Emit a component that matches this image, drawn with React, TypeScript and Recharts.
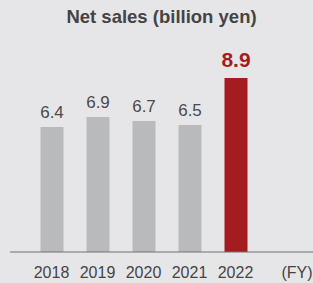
import React from 'react';
import { BarChart, Bar, XAxis, YAxis, Cell, LabelList, Label } from 'recharts';

const years = ['2018', '2019', '2020', '2021', '2022'];
const netSales = [6.4, 6.9, 6.7, 6.5, 8.9];
const highlightYear = '2022';

const data = years.map((year, i) => ({ year, sales: netSales[i] }));

const FONT = '"Liberation Sans", Arial, Helvetica, sans-serif';
const RED = '#a51c20';
const GRAY = '#b9babc';

const ValueLabel = (props: any) => {
  const { x, y, width, value, index } = props;
  const hot = years[index] === highlightYear;
  return (
    <text
      x={x + width / 2}
      y={y - (hot ? 11 : 9)}
      textAnchor="middle"
      fontFamily={FONT}
      fontSize={hot ? 21 : 17}
      fontWeight={hot ? 700 : 400}
      fill={hot ? RED : '#4a4a4a'}
    >
      {value.toFixed(1)}
    </text>
  );
};

export default function App() {
  return (
    <div style={{ position: 'absolute', left: 0, top: 0, width: 313, height: 283, background: '#e6e6e8' }}>
      <div
        style={{
          position: 'absolute', left: 0, top: 6, width: 323, textAlign: 'center',
          fontFamily: FONT, fontWeight: 700, fontSize: 18.5, color: '#444', lineHeight: '22px',
        }}
      >
        Net sales (billion yen)
      </div>
      <BarChart
        width={313}
        height={283}
        data={data}
        margin={{ top: 56.5, right: 0, bottom: 0, left: 10 }}
        barCategoryGap={0}
      >
        <YAxis hide domain={[0, 10]} />
        <XAxis
          dataKey="year"
          height={31}
          padding={{ left: 18.5, right: 54.5 }}
          tickLine={false}
          tickSize={0}
          tickMargin={15}
          axisLine={{ stroke: '#707070', strokeWidth: 1 }}
          tick={{ fill: '#444', fontSize: 16, fontFamily: FONT }}
        >
          <Label
            content={(p: any) => (
              <text x={297} y={278} textAnchor="middle" fontFamily={FONT} fontSize={16} fill="#444">
                (FY)
              </text>
            )}
          />
        </XAxis>
        <Bar dataKey="sales" barSize={23} isAnimationActive={false}>
          {data.map((d) => (
            <Cell key={d.year} fill={d.year === highlightYear ? RED : GRAY} />
          ))}
          <LabelList dataKey="sales" content={ValueLabel} />
        </Bar>
      </BarChart>
    </div>
  );
}
